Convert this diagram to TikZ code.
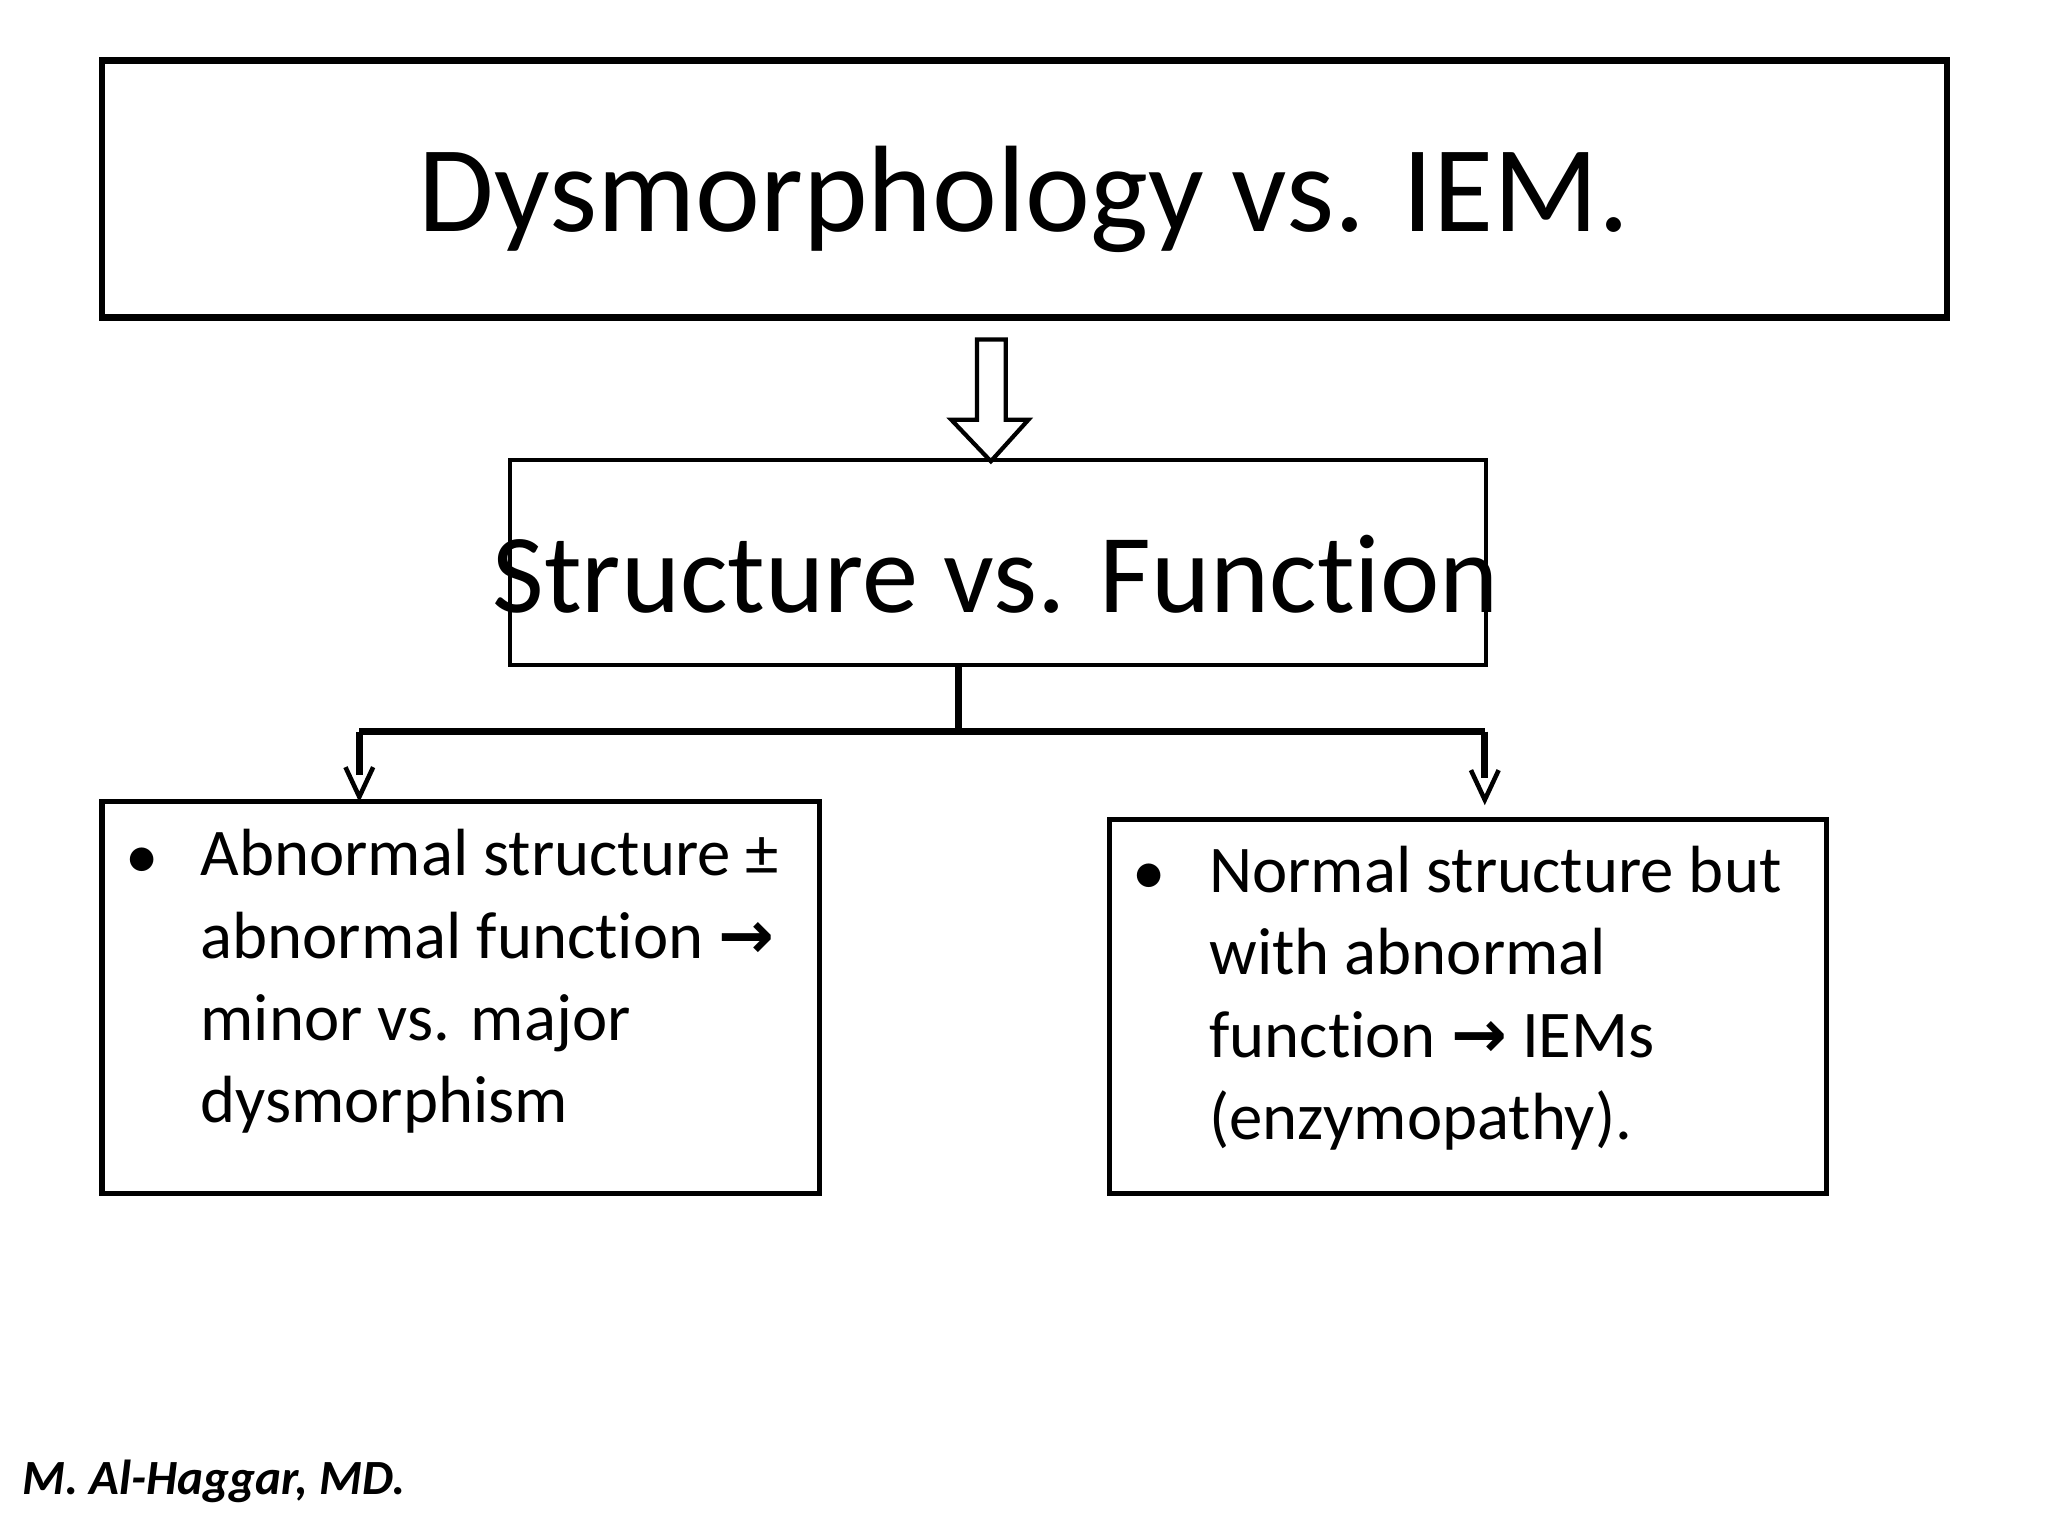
\documentclass[tikz,border=0pt]{standalone}
\usepackage{fontspec}
\setmainfont{Carlito}[Ligatures={NoCommon}]
\newfontfamily\symfont{DejaVu Sans}
\usetikzlibrary{positioning,calc}
\newcommand{\rarr}{{\symfont\bfseries →}}

\begin{document}
\begin{tikzpicture}[
  x=0.0099cm,y=-0.0099cm,
  box/.style={draw,line width=1.5pt,inner sep=0pt},
  item/.style={anchor=base west,inner sep=0pt,align=left,
    font=\fontsize{19pt}{23.4pt}\selectfont},
  split/.style={draw,line width=1.9pt},
  open-tip/.style={draw,line width=1.3pt},
  ]
  \useasboundingbox (0,0) rectangle (2069,1552);

  % title
  \draw [box,line width=1.9pt] (103,61) rectangle (1967,321);
  \node (title) at (1035,201) {\fontsize{35pt}{40pt}\selectfont Dysmorphology vs. IEM.};

  % hollow arrow
  \draw [line width=1.2pt] (987,343) -- (1016,343) -- (1016,424) -- (1039,424)
    -- (1001,466) -- (961,424) -- (987,424) -- cycle;

  % middle box
  \draw [box,line width=1.1pt] (515,465) rectangle (1501,672);
  \node (sf) at (1006,580) {\fontsize{32pt}{38pt}\selectfont Structure vs. Function};

  % connectors
  \coordinate (stem-top) at (968,672);
  \coordinate (stem-bot) at (968,739);
  \coordinate (left-end) at (363,739);
  \coordinate (right-end) at (1500,739);
  \coordinate (left-tip) at (363,805);
  \coordinate (right-tip) at (1500,808);
  \draw [split] (stem-top) -- (stem-bot);
  \draw [split] (left-end) -- (right-end);
  \draw [split] (left-end) -- ($(left-tip)+(0,-22)$);
  \draw [split] (right-end) -- ($(right-tip)+(0,-22)$);
  \draw [open-tip] ($(left-tip)+(-14,-30)$) -- (left-tip) -- ($(left-tip)+(14,-30)$);
  \draw [open-tip] ($(right-tip)+(-14,-30)$) -- (right-tip) -- ($(right-tip)+(14,-30)$);

  % lower boxes
  \draw [box] (103,810) rectangle (828,1206);
  \node [item] (bul-l) at (126,887) {•};
  \node [item] (txt-l) at (202,1134) {Abnormal structure ±\\abnormal function \rarr\\minor vs. major\\dysmorphism};

  \draw [box] (1121,828) rectangle (1845,1206);
  \node [item] (bul-r) at (1143,904) {•};
  \node [item] (txt-r) at (1221,1151) {Normal structure but\\with abnormal\\function \rarr{} IEMs\\(enzymopathy).};

  % footer
  \node [anchor=base west,inner sep=0pt] (author) at (22,1510)
    {\fontsize{14pt}{16pt}\selectfont\bfseries\itshape M. Al-Haggar, MD.};
\end{tikzpicture}
\end{document}
